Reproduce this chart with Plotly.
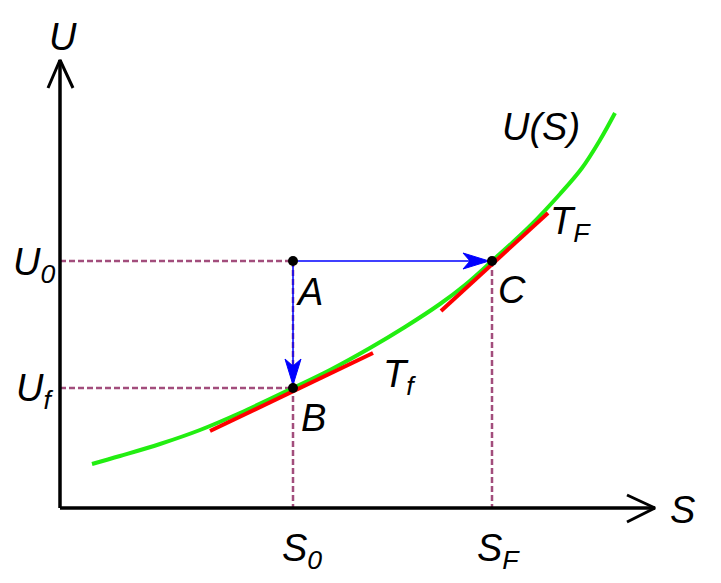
import plotly.graph_objects as go

# U(S) curve (origin at the axes corner)
curve_s = [32, 60, 100, 140, 180, 233, 270, 310, 345, 380, 405, 432, 470, 500, 522, 540, 555]
curve_u = [44, 52, 64, 78, 95, 120, 138, 160, 181, 204, 223, 247, 282, 314, 340, 368, 395]

# key states
S0, SF = 233, 432
U0, Uf = 247, 120

# tangent segments
tan_f_s = [150, 313]
tan_f_u = [77, 155]
tan_F_s = [381, 488]
tan_F_u = [197, 295]

# axis extents
s_max, u_max = 595, 448

FONT = "Liberation Sans, Arial, sans-serif"
DASH_COL = "#a24d7c"

fig = go.Figure()


def seg(xs, ys, color, width, dash="solid"):
    fig.add_trace(go.Scatter(x=xs, y=ys, mode="lines", showlegend=False, hoverinfo="skip",
                             line=dict(color=color, width=width, dash=dash)))


def head(tip, dx, dy, length=26, half=8, notch=7, color="#0000ff"):
    # swept arrowhead polygon pointing along (dx, dy)
    tx, ty = tip
    px, py = -dy, dx
    bx, by = tx - dx * length, ty - dy * length
    nx, ny = tx - dx * (length - notch), ty - dy * (length - notch)
    xs = [tx, bx + px * half, nx, bx - px * half, tx]
    ys = [ty, by + py * half, ny, by - py * half, ty]
    fig.add_trace(go.Scatter(x=xs, y=ys, mode="lines", fill="toself", fillcolor=color,
                             line=dict(color=color, width=1), showlegend=False, hoverinfo="skip"))


# dashed guides
seg([0, S0], [U0, U0], DASH_COL, 2.5, "6px,3px")
seg([0, S0], [Uf, Uf], DASH_COL, 2.5, "6px,3px")
seg([S0, S0], [U0, 0], DASH_COL, 2.5, "6px,3px")
seg([SF, SF], [U0, 0], DASH_COL, 2.5, "6px,3px")

# curve and tangents
fig.add_trace(go.Scatter(x=curve_s, y=curve_u, mode="lines", showlegend=False, hoverinfo="skip",
                         line=dict(color="#22ee11", width=4, shape="spline", smoothing=1)))
seg(tan_f_s, tan_f_u, "#ff0000", 4)
seg(tan_F_s, tan_F_u, "#ff0000", 4)

# blue process arrows
seg([S0, SF - 20], [U0, U0], "#0000ff", 1.5)
head((SF - 3, U0), 1, 0)
seg([S0, S0], [U0, Uf + 20], "#0000ff", 1.5)
head((S0, Uf + 3), 0, -1)

# axes with open arrow tips
seg([0, 0], [0, u_max], "black", 3.5)
seg([0, s_max], [0, 0], "black", 3.5)
seg([-12, 0, 13], [u_max - 28, u_max, u_max - 28], "black", 3)
seg([s_max - 28, s_max, s_max - 28], [13, 0, -14], "black", 3)

# states
fig.add_trace(go.Scatter(x=[S0, S0, SF], y=[U0, Uf, U0], mode="markers", showlegend=False,
                         hoverinfo="skip", marker=dict(color="black", size=10)))

labels = [
    ("U", 3, 471),
    ("S", 622, -2),
    ("U(S)", 481, 381),
    ("T<sub>F</sub>", 510, 284),
    ("T<sub>f</sub>", 339, 131),
    ("A", 249, 216),
    ("B", 253, 90),
    ("C", 452, 218),
    ("U<sub>0</sub>", -26, 243),
    ("U<sub>f</sub>", -26, 117),
    ("S<sub>0</sub>", 242, -43),
    ("S<sub>F</sub>", 438, -43),
]
for txt, x, y in labels:
    fig.add_annotation(x=x, y=y, text=f"<i>{txt}</i>", showarrow=False,
                       font=dict(family=FONT, size=38, color="black"))

# ranges offset to compensate for the page's default body margin
fig.update_layout(
    width=721, height=583,
    margin=dict(l=0, r=0, t=0, b=0),
    plot_bgcolor="white", paper_bgcolor="white",
    xaxis=dict(range=[-52, 669], visible=False, fixedrange=True),
    yaxis=dict(range=[-83, 500], visible=False, fixedrange=True),
)

fig.write_html("out.html")
